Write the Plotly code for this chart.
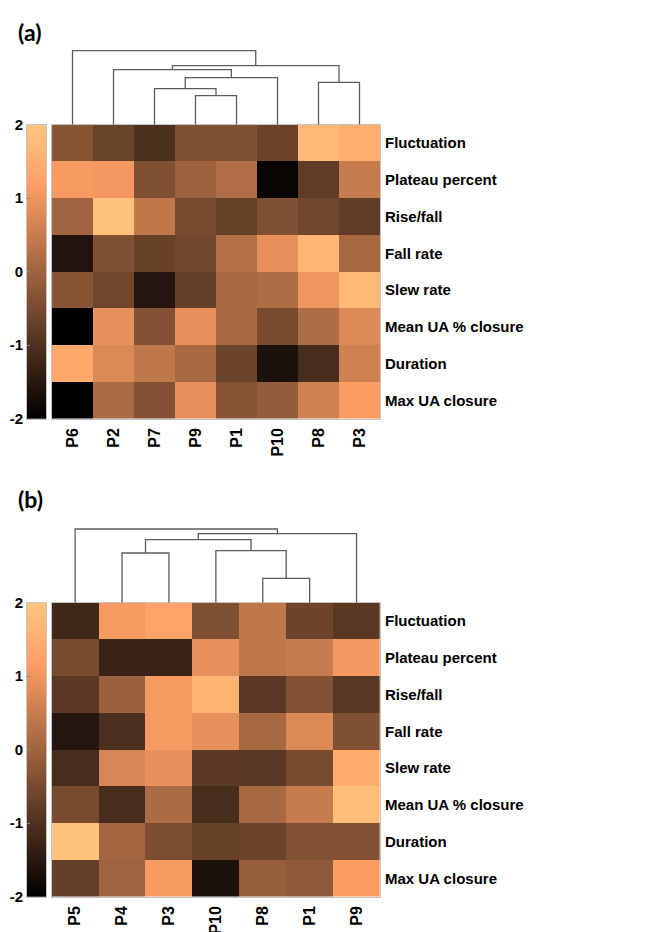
import numpy as np
import plotly.graph_objects as go

W, H = 649, 932

features = ["Fluctuation", "Plateau percent", "Rise/fall", "Fall rate",
            "Slew rate", "Mean UA % closure", "Duration", "Max UA closure"]

# ---- panel (a) ----
a_patients = ["P6", "P2", "P7", "P9", "P1", "P10", "P8", "P3"]
a_values = [
    [-0.30, -0.68, -1.04, -0.40, -0.40, -0.64, 1.70, 1.50],   # Fluctuation
    [1.10, 1.05, -0.40, -0.04, 0.22, -1.90, -0.80, 0.50],     # Plateau percent
    [0.00, 1.90, 0.40, -0.50, -0.70, -0.40, -0.60, -0.80],    # Rise/fall
    [-1.60, -0.40, -0.70, -0.60, 0.25, 0.90, 1.65, 0.10],     # Fall rate
    [-0.30, -0.60, -1.55, -0.75, 0.10, 0.20, 1.00, 1.70],     # Slew rate
    [-2.00, 0.90, -0.35, 0.90, 0.10, -0.50, 0.20, 0.75],      # Mean UA % closure
    [1.40, 0.75, 0.40, 0.10, -0.65, -1.65, -1.10, 0.60],      # Duration
    [-2.00, 0.15, -0.35, 0.90, -0.30, -0.15, 0.60, 1.15],     # Max UA closure
]
# linkage: (left node, right node, height); leaves 0..7 in display order, merges numbered from 8
a_links = [(3, 4, 2.90), (2, 8, 3.60), (9, 5, 4.70), (6, 7, 4.23),
           (1, 10, 5.50), (12, 11, 5.90), (0, 13, 7.40)]

# ---- panel (b) ----
b_patients = ["P5", "P4", "P3", "P10", "P8", "P1", "P9"]
b_values = [
    [-1.20, 1.10, 1.30, -0.40, 0.40, -0.65, -0.90],   # Fluctuation
    [-0.50, -1.30, -1.30, 0.90, 0.40, 0.50, 1.05],    # Plateau percent
    [-0.85, -0.05, 1.10, 1.60, -0.85, -0.35, -0.90],  # Rise/fall
    [-1.55, -1.05, 1.10, 0.90, 0.10, 0.75, -0.40],    # Fall rate
    [-1.10, 0.70, 0.90, -0.85, -0.90, -0.50, 1.45],   # Slew rate
    [-0.50, -1.10, 0.15, -1.10, 0.10, 0.50, 1.80],    # Mean UA % closure
    [1.90, 0.05, -0.45, -0.70, -0.65, -0.35, -0.35],  # Duration
    [-0.75, 0.00, 1.10, -1.65, -0.10, -0.20, 1.15],   # Max UA closure
]
b_links = [(4, 5, 2.44), (1, 2, 4.97), (3, 7, 5.20), (8, 9, 6.30),
           (10, 6, 6.90), (0, 11, 7.37)]

cbar_ticks = [-2, -1, 0, 1, 2]

# copper colormap
copper = [[0.0, "rgb(0,0,0)"], [0.8, "rgb(255,159,101)"], [1.0, "rgb(255,199,127)"]]

FONT = "Liberation Sans"
BORDER = "#c4c4c4"
DENDRO = "#5c5c5c"


def px_y(p):
    return 1 - p / H


def px_x(p):
    return p / W


def dendro_xy(n_leaves, links):
    pos = {i: (float(i), 0.0) for i in range(n_leaves)}
    xs, ys = [], []
    for k, (l, r, h) in enumerate(links):
        xl, yl = pos[l]
        xr, yr = pos[r]
        xs += [xl, xl, xr, xr, None]
        ys += [yl, h, h, yr, None]
        pos[n_leaves + k] = ((xl + xr) / 2, h)
    return xs, ys


fig = go.Figure()

panels = [
    dict(pat=a_patients, vals=a_values, links=a_links, top=124.7, bot=418.7,
         left=52.0, right=380.0, label="(a)", label_y=32, idx=1),
    dict(pat=b_patients, vals=b_values, links=b_links, top=602.7, bot=896.7,
         left=51.7, right=380.0, label="(b)", label_y=499, idx=2),
]

grad = np.linspace(-2, 2, 256)
layout = dict()

for p in panels:
    i = p["idx"]
    n = len(p["pat"])
    hx, hy = f"x{3*i-2}", f"y{3*i-2}"
    dx, dy = f"x{3*i-1}", f"y{3*i-1}"
    cx, cy = f"x{3*i}", f"y{3*i}"

    fig.add_trace(go.Heatmap(z=p["vals"], x=p["pat"], y=features, colorscale=copper,
                             zmin=-2, zmax=2, showscale=False, xaxis=hx, yaxis=hy))
    xs, ys = dendro_xy(n, p["links"])
    fig.add_trace(go.Scatter(x=xs, y=ys, mode="lines", xaxis=dx, yaxis=dy,
                             line=dict(color=DENDRO, width=1.3), showlegend=False,
                             hoverinfo="skip"))
    fig.add_trace(go.Heatmap(z=[[g] for g in grad], x=[0], y=grad, colorscale=copper,
                             zmin=-2, zmax=2, showscale=False, xaxis=cx, yaxis=cy,
                             hoverinfo="skip"))

    xd = [px_x(p["left"]), px_x(p["right"])]
    yd = [px_y(p["bot"]), px_y(p["top"])]

    def key(a):
        return a[0] + "axis" + (a[1:] if a[1:] != "1" else "")

    layout[key(hx)] = dict(domain=xd, anchor=hy, type="category", range=[-0.5, n - 0.5],
                           tickangle=-90, ticks="", showline=True, mirror=True,
                           linecolor=BORDER, linewidth=1, showgrid=False, zeroline=False,
                           automargin=False,
                           tickfont=dict(family=FONT, size=16, color="black", weight="bold"),
                           ticklabelstandoff=2)
    layout[key(hy)] = dict(domain=yd, anchor=hx, type="category", autorange="reversed",
                           side="right", ticks="", showline=True, mirror=True,
                           linecolor=BORDER, linewidth=1, showgrid=False, zeroline=False,
                           automargin=False,
                           tickfont=dict(family=FONT, size=15, color="black", weight="bold"),
                           ticklabelstandoff=1)
    layout[key(dx)] = dict(domain=xd, anchor=dy, range=[-0.5, n - 0.5], visible=False,
                           automargin=False)
    layout[key(dy)] = dict(domain=[px_y(p["top"]), px_y(p["top"] - 100)], anchor=dx,
                           range=[0, 10], visible=False, automargin=False)
    layout[key(cx)] = dict(domain=[px_x(27), px_x(46)], anchor=cy, range=[-0.5, 0.5],
                           showticklabels=False, ticks="", showline=True, mirror=True,
                           linecolor=BORDER, linewidth=1, showgrid=False, zeroline=False,
                           automargin=False)
    layout[key(cy)] = dict(domain=yd, anchor=cx, range=[-2, 2], tickvals=cbar_ticks,
                           ticktext=[str(t) for t in cbar_ticks], side="left",
                           ticks="inside", ticklen=3, tickcolor="#888888",
                           showline=True, mirror=True, linecolor=BORDER, linewidth=1,
                           showgrid=False, zeroline=False, automargin=False,
                           tickfont=dict(family=FONT, size=15, color="black", weight="bold"),
                           ticklabelstandoff=0)

annotations = [
    dict(text=p["label"], x=px_x(16), y=px_y(p["label_y"]), xref="paper", yref="paper",
         xanchor="left", yanchor="middle", showarrow=False,
         font=dict(family="Lato", size=23, color="black", weight="bold"))
    for p in panels
]

fig.update_layout(width=W, height=H, margin=dict(l=0, r=0, t=0, b=0, autoexpand=False),
                  paper_bgcolor="white", plot_bgcolor="white",
                  showlegend=False, annotations=annotations, **layout)

fig.write_html("out.html")
